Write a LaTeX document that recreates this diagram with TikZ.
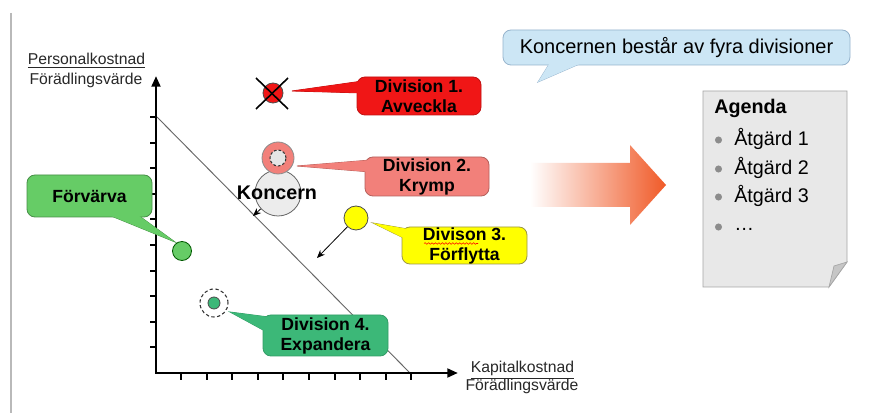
\documentclass[tikz,border=0pt]{standalone}
\usepackage{fontspec}
\setmainfont{Liberation Sans}
\usetikzlibrary{arrows.meta,calc,decorations.pathmorphing}
\definecolor{divred}{RGB}{240,22,22}
\definecolor{divpink}{RGB}{242,128,122}
\definecolor{divyel}{RGB}{255,255,0}
\definecolor{lgreen}{RGB}{102,204,102}
\definecolor{dgreen}{RGB}{60,184,120}
\definecolor{bubble}{RGB}{204,230,245}
\definecolor{bubbleb}{RGB}{150,180,205}
\definecolor{arrowc}{RGB}{240,90,40}
\definecolor{docfill}{RGB}{232,232,232}
\definecolor{labelc}{RGB}{40,40,40}
\begin{document}
\begin{tikzpicture}[x=0.75pt,y=-0.75pt,
  box/.style={rectangle, rounded corners=6pt, inner sep=0pt, align=center,
    font=\fontsize{13.2}{15}\selectfont\bfseries, line width=0.6pt},
  ptr/.style={line width=0.6pt, line join=miter},
  dot/.style={circle, inner sep=0pt, line width=0.6pt},
  axislabel/.style={font=\fontsize{11.8}{14}\selectfont, text=labelc, inner sep=0pt, anchor=base},
  agtext/.style={font=\fontsize{14.8}{17}\selectfont, inner sep=0pt, anchor=base west},
  bulletdot/.style={circle, fill=gray!90, inner sep=0pt, minimum size=5.3pt},
  tickmark/.style={line width=1.5pt},
  arr/.style={-{Stealth[length=6pt,width=5pt]}, line width=0.6pt},
]
\useasboundingbox (0,0) rectangle (882,413);
\fill[white] (0,0) rectangle (882,413);
% left frame line
\draw[gray!55, line width=0.8pt] (11,13) -- (11,413);

% diagonal
\draw[black!60, line width=0.7pt] (157,117) -- (410,373);

% axes
\coordinate (O) at (156,373);
\coordinate (ytop) at (156,76);
\coordinate (xend) at (458,373);
\draw[line width=2pt, line join=miter, {Triangle[length=8pt,width=6.5pt]}-{Triangle[length=8pt,width=6.5pt]}] (ytop) -- (O) -- (xend);
\foreach \i in {0,...,9} {
  \draw[tickmark] (150,{117+25.6*\i}) -- (156,{117+25.6*\i});
  \draw[tickmark] ({181+25.6*\i},373) -- ({181+25.6*\i},380);
}

% axis labels
\node[axislabel] (yl1) at (86.5,65) {\underline{Personalkostnad}};
\node[axislabel] (yl2) at (86,85) {Förädlingsvärde};
\node[axislabel] (xl1) at (522.5,372.7) {\underline{Kapitalkostnad}};
\node[axislabel] (xl2) at (522,391) {Förädlingsvärde};

% ---- Division 1
\coordinate (t1) at (292,91);
\node[box, minimum width=93pt, minimum height=28.5pt] (d1) at (419,96) {};
\filldraw[ptr, fill=divred, draw=divred!80!black] (t1) -- ($(d1.west)+(6,-15)$) -- ($(d1.west)+(6,-3)$) -- cycle;
\node[box, fill=divred, draw=divred!80!black, minimum width=93pt, minimum height=28.5pt] at (d1) {Division 1.\\Avveckla};
\fill[divred] (t1) -- ($(d1.west)+(6,-15)$) -- ($(d1.west)+(6,-3)$) -- cycle;
\node[dot, fill=divred, draw=black!70, minimum size=15pt] (redc) at (273,93) {};
\draw[line width=1.2pt] (256,78) -- (288,109);
\draw[line width=1.2pt] (256,109) -- (288,78);

% ---- Koncern + Division 2
\node[dot, fill=gray!15, draw=black!60, minimum size=34.5pt] (konc) at (278,193) {};
\coordinate (t2) at (297,166);
\node[box, minimum width=93pt, minimum height=29.25pt] (d2) at (427,176.5) {};
\filldraw[ptr, fill=divpink, draw=divpink!75!black] (t2) -- ($(d2.west)+(6,-16.5)$) -- ($(d2.west)+(6,-4.5)$) -- cycle;
\node[box, fill=divpink, draw=divpink!75!black, minimum width=93pt, minimum height=29.25pt] at (d2) {Division 2.\\Krymp};
\fill[divpink] (t2) -- ($(d2.west)+(6,-16.5)$) -- ($(d2.west)+(6,-4.5)$) -- cycle;
\node[dot, fill=divpink, draw=black!45, minimum size=24pt] (pinkc) at (278,158) {};
\node[dot, fill=gray!20, draw=black!80, dash pattern=on 2pt off 1.5pt, line width=0.8pt, minimum size=12pt] (pinki) at (278,158) {};
\node[font=\fontsize{14.8}{17}\selectfont\bfseries, inner sep=0pt] (konct) at (277,193) {Koncern};
\coordinate (kArr) at (253,216);
\draw[arr] (konc) -- (kArr);

% ---- Division 3
\coordinate (t3) at (373,223);
\node[box, minimum width=93.75pt, minimum height=27.75pt] (d3) at (464.5,245.5) {};
\filldraw[ptr, fill=divyel, draw=yellow!55!black] (t3) -- ($(d3.west)+(6,-16.5)$) -- ($(d3.west)+(6,-5.5)$) -- cycle;
\node[box, fill=divyel, draw=yellow!55!black, minimum width=93.75pt, minimum height=27.75pt] at (d3) {Divison 3.\\Förflytta};
\fill[divyel] (t3) -- ($(d3.west)+(6,-16.5)$) -- ($(d3.west)+(6,-5.5)$) -- cycle;
\draw[red, line width=0.4pt, decorate, decoration={snake, amplitude=0.6pt, segment length=2.6pt}] (424,243.5) -- (478,243.5);
\node[dot, fill=divyel, draw=black!70, minimum size=18pt] (yel) at (356,218) {};
\coordinate (yArr) at (317,258);
\draw[arr] (yel) -- (yArr);

% ---- Förvärva
\coordinate (t5) at (175,242);
\node[box, minimum width=93.75pt, minimum height=31.5pt] (fv) at (89.5,196) {};
\filldraw[ptr, fill=lgreen, draw=lgreen!70!black] (t5) -- ($(fv.south)+(10.5,-6)$) -- ($(fv.south)+(43.5,-6)$) -- cycle;
\node[box, fill=lgreen, draw=lgreen!70!black, minimum width=93.75pt, minimum height=31.5pt] at (fv) {Förvärva};
\fill[lgreen] (t5) -- ($(fv.south)+(10.5,-6)$) -- ($(fv.south)+(43.5,-6)$) -- cycle;
\node[dot, fill=lgreen, draw=green!35!black, minimum size=14.25pt] (grc) at (182,251) {};

% ---- Division 4
\coordinate (t4) at (230,312);
\node[box, minimum width=93.75pt, minimum height=30.75pt] (d4) at (325.5,335.5) {};
\filldraw[ptr, fill=dgreen, draw=dgreen!85!black] (t4) -- ($(d4.west)+(6,-18.5)$) -- ($(d4.west)+(6,-2.5)$) -- cycle;
\node[box, fill=dgreen, draw=dgreen!85!black, minimum width=93.75pt, minimum height=30.75pt] at (d4) {Division 4.\\Expandera};
\fill[dgreen] (t4) -- ($(d4.west)+(6,-18.5)$) -- ($(d4.west)+(6,-2.5)$) -- cycle;
\node[dot, fill=dgreen, draw=black!70, minimum size=9pt] (d4c) at (214,303) {};
\node[dot, draw=black!80, dash pattern=on 2.5pt off 1.8pt, line width=0.8pt, minimum size=21pt] (d4r) at (214,303) {};

% ---- speech bubble
\coordinate (tb) at (538,82);
\node[box, minimum width=260.25pt, minimum height=26.25pt] (bub) at (676.5,47.5) {};
\filldraw[ptr, fill=bubble, draw=bubbleb] (tb) -- ($(bub.south)+(-124.5,-6)$) -- ($(bub.south)+(-86.5,-6)$) -- cycle;
\node[box, fill=bubble, draw=bubbleb, minimum width=260.25pt, minimum height=26.25pt, font=\fontsize{15}{18}\selectfont] at (bub) {Koncernen består av fyra divisioner};
\fill[bubble] (tb) -- ($(bub.south)+(-124.5,-6)$) -- ($(bub.south)+(-86.5,-6)$) -- cycle;

% ---- big arrow
\shade[left color=white, right color=arrowc] (530,163) -- (630,163) -- (630,145) -- (666,185) -- (630,225) -- (630,207) -- (530,207) -- cycle;

% ---- document
\filldraw[fill=docfill, draw=gray!70, line width=0.6pt] (703,91) -- (847,91) -- (847,262) -- (829,287) -- (703,287) -- cycle;
\filldraw[fill=gray!45, draw=gray!70, line width=0.5pt] (847,262) -- (834,266) -- (829,287) -- cycle;
\node[agtext, font=\fontsize{14.8}{17}\selectfont\bfseries] (ag) at (714,114) {Agenda};
\node[bulletdot] (b1) at (718.5,140) {};
\node[agtext] (a1) at (734,146) {Åtgärd 1};
\node[bulletdot] (b2) at (718.5,169) {};
\node[agtext] (a2) at (734,174.5) {Åtgärd 2};
\node[bulletdot] (b3) at (718.5,197) {};
\node[agtext] (a3) at (734,203) {Åtgärd 3};
\node[bulletdot] (b4) at (718.5,227) {};
\node[agtext] (a4) at (734,231) {…};
\end{tikzpicture}
\end{document}
